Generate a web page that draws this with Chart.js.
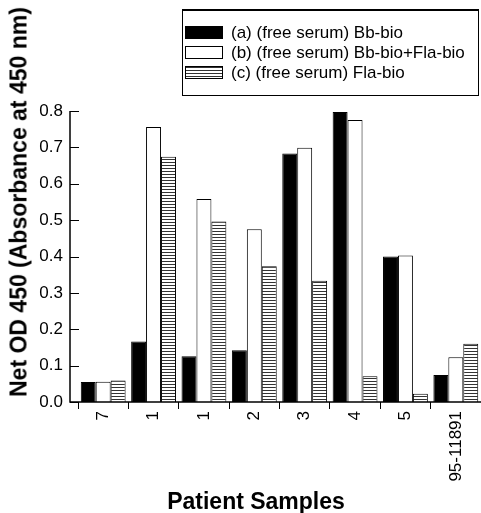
<!DOCTYPE html>
<html lang="en">
<head>
    <meta charset="UTF-8">
    <title>Net OD 450 by patient sample</title>
    <script src="https://cdn.jsdelivr.net/npm/chart.js"></script>
    <style>
        body {
            margin: 0;
            padding: 0;
            background-color: #fff;
            font-family: 'Liberation Sans', Arial, sans-serif;
        }

        #wrap {
            position: relative;
            width: 481px;
            height: 513px;
        }

        #legend {
            position: absolute;
            left: 182px;
            top: 9px;
            width: 295px;
            height: 84px;
            border: 1px solid #000;
            border-top-width: 2px;
            font-size: 17px;
            color: #000;
        }

        .item {
            position: absolute;
            left: 2px;
            height: 20px;
            line-height: 20px;
            white-space: nowrap;
        }

        .swatch {
            display: inline-block;
            width: 36px;
            height: 11px;
            border: 1px solid #000;
            vertical-align: -1px;
            margin-right: 8px;
        }

        #ytitle {
            position: absolute;
            left: 19px;
            top: 202px;
            transform: translate(-50%, -50%) rotate(-90deg);
            white-space: nowrap;
            font-weight: bold;
            font-size: 23px;
        }

        #xtitle {
            position: absolute;
            left: 256px;
            top: 501px;
            transform: translate(-50%, -50%);
            white-space: nowrap;
            font-weight: bold;
            font-size: 23px;
        }
    </style>
</head>
<body>
    <div id="wrap">
        <canvas id="chart" width="481" height="513"></canvas>
        <div id="legend"></div>
        <div id="ytitle">Net OD 450 (Absorbance at 450 nm)</div>
        <div id="xtitle">Patient Samples</div>
    </div>

    <script>
        // patient samples
        const samples = ['7', '1', '1', '2', '3', '4', '5', '95-11891'];

        const seriesNames = [
            '(a) (free serum) Bb-bio',
            '(b) (free serum) Bb-bio+Fla-bio',
            '(c) (free serum) Fla-bio'
        ];

        const bbBio = [0.055, 0.166, 0.126, 0.142, 0.683, 0.797, 0.400, 0.074];
        const bbFlaBio = [0.056, 0.756, 0.558, 0.475, 0.699, 0.775, 0.403, 0.123];
        const flaBio = [0.059, 0.674, 0.496, 0.373, 0.333, 0.071, 0.023, 0.160];

        const yTicks = [0, 0.1, 0.2, 0.3, 0.4, 0.5, 0.6, 0.7, 0.8];

        // horizontal hatching for series (c)
        function stripes() {
            const c = document.createElement('canvas');
            c.width = 4;
            c.height = 3;
            const g = c.getContext('2d');
            g.fillStyle = '#fff';
            g.fillRect(0, 0, 4, 3);
            g.fillStyle = '#333';
            g.fillRect(0, 0, 4, 1);
            return g.createPattern(c, 'repeat');
        }

        const fills = ['#000', '#fff', stripes()];
        const swatchCss = [
            'background:#000',
            'background:#fff',
            'background:repeating-linear-gradient(#333 0 1px, #fff 1px 3px)'
        ];

        // legend
        const legend = document.getElementById('legend');
        seriesNames.forEach((name, i) => {
            const div = document.createElement('div');
            div.className = 'item';
            div.style.top = (12 + i * 20) + 'px';
            div.innerHTML = '<span class="swatch" style="' + swatchCss[i] + '"></span>' + name;
            legend.appendChild(div);
        });

        // axis lines + inward y ticks
        const axisLines = {
            id: 'axisLines',
            afterDraw(chart) {
                const ctx = chart.ctx;
                const y = chart.scales.y;
                const x0 = 70;
                const bottom = y.getPixelForValue(0);
                ctx.save();
                ctx.strokeStyle = '#000';
                ctx.lineWidth = 1.5;
                ctx.beginPath();
                ctx.moveTo(x0, y.getPixelForValue(0.8));
                ctx.lineTo(x0, bottom);
                ctx.lineTo(chart.chartArea.right, bottom);
                ctx.stroke();
                ctx.lineWidth = 1;
                yTicks.forEach(v => {
                    const py = Math.round(y.getPixelForValue(v)) + 0.5;
                    ctx.beginPath();
                    ctx.moveTo(x0, py);
                    ctx.lineTo(x0 + 9, py);
                    ctx.stroke();
                });
                ctx.restore();
            }
        };

        const datasets = [bbBio, bbFlaBio, flaBio].map((data, i) => ({
            label: seriesNames[i],
            data: data,
            backgroundColor: fills[i],
            borderColor: '#000',
            borderWidth: 1,
            barPercentage: 1.0,
            categoryPercentage: 0.89
        }));

        new Chart(document.getElementById('chart'), {
            type: 'bar',
            data: {
                labels: samples,
                datasets: datasets
            },
            plugins: [axisLines],
            options: {
                responsive: false,
                animation: false,
                layout: {
                    padding: { top: 111, right: 0, bottom: 0, left: 0 }
                },
                plugins: {
                    legend: { display: false },
                    tooltip: { enabled: false }
                },
                scales: {
                    x: {
                        afterFit: s => { s.height = 111; },
                        border: { display: false },
                        grid: {
                            offset: true,
                            drawOnChartArea: false,
                            tickLength: 7,
                            color: '#000'
                        },
                        ticks: {
                            minRotation: 90,
                            maxRotation: 90,
                            padding: 2,
                            color: '#000',
                            font: { family: 'Liberation Sans, Arial', size: 17 }
                        }
                    },
                    y: {
                        min: 0,
                        max: 0.8,
                        afterFit: s => { s.width = 78; },
                        border: { display: false },
                        grid: { display: false },
                        afterBuildTicks: s => { s.ticks = yTicks.map(v => ({ value: v })); },
                        ticks: {
                            padding: 7,
                            color: '#000',
                            font: { family: 'Liberation Sans, Arial', size: 17 },
                            callback: v => v.toFixed(1)
                        }
                    }
                }
            }
        });
    </script>
</body>
</html>
